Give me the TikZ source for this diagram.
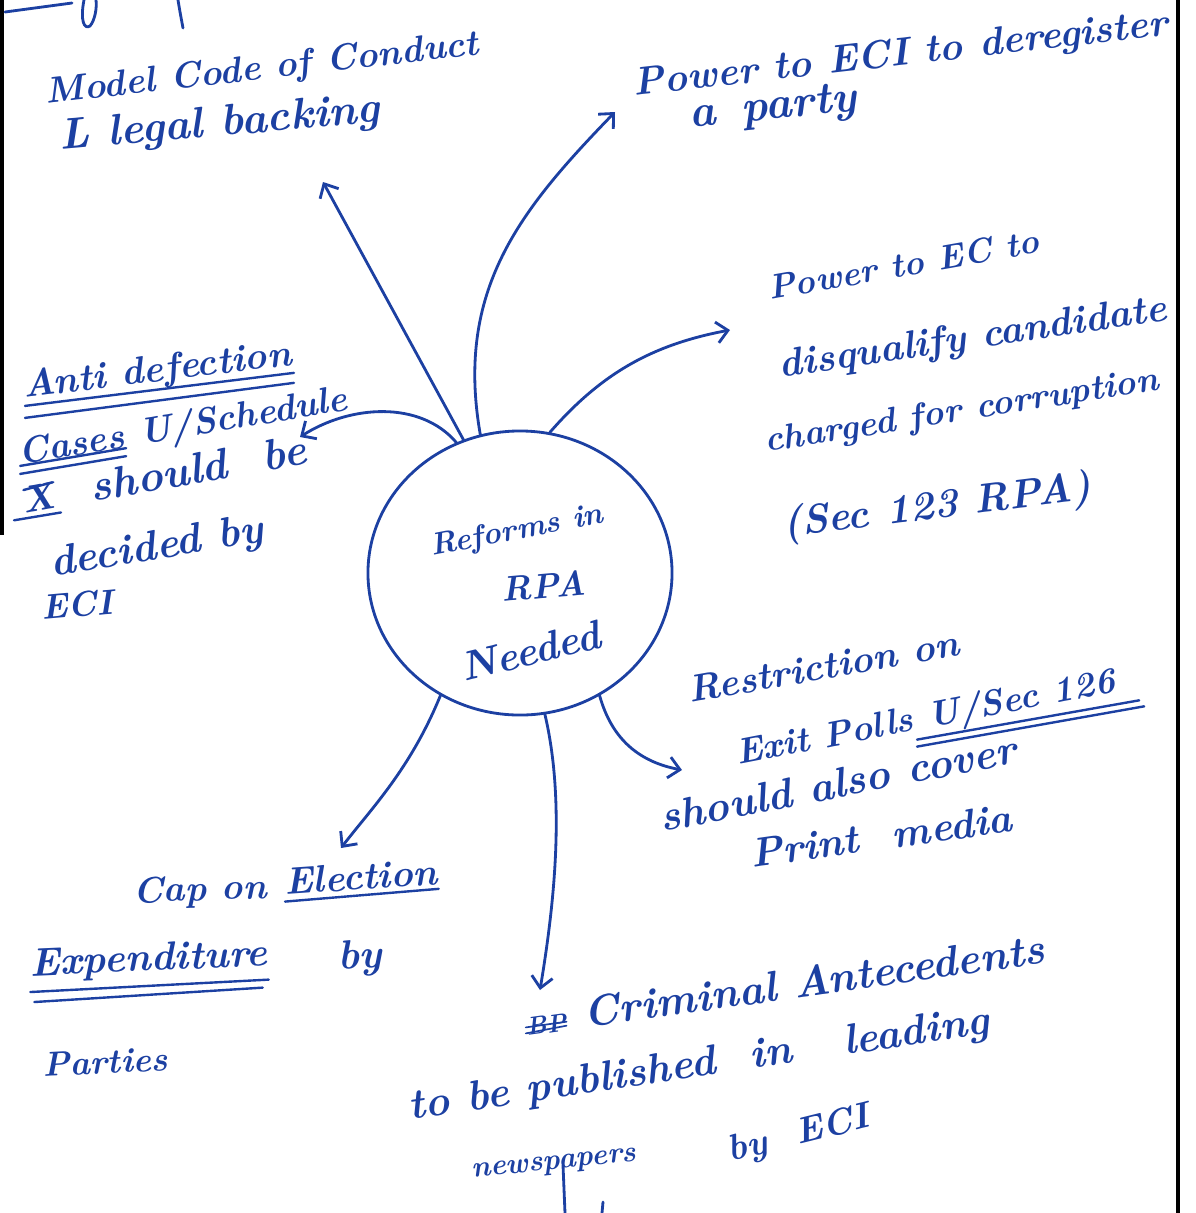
\documentclass[tikz,border=0pt]{standalone}
\usetikzlibrary{arrows.meta,shapes.geometric,calc}
\definecolor{ink}{RGB}{28,64,162}
\begin{document}
\begin{tikzpicture}[x=0.025cm,y=-0.025cm,
  pen/.style={draw=ink,line width=2pt,line cap=round,line join=round},
  link/.style={pen,-{Straight Barb[length=8pt,width=15pt,line width=2pt]}},
  hand/.style={text=ink,inner sep=0pt,anchor=base west,font=\fontsize{#1}{#1}\selectfont\bfseries\itshape},
  hand/.default=27,
  rule/.style={pen,line width=1.7pt},
]
\path[fill=white] (0,0) rectangle (1196,1213);
\useasboundingbox (0,0) rectangle (1196,1213);

% margins of the sheet
\draw[black,line width=3pt] (1178,0) -- (1178,1213);
\draw[black,line width=4pt] (1,0) -- (1,535);

% heading strokes cut by the top edge
\draw[pen] (5,12) -- (72,3);
\draw[pen] (84,0) .. controls (80,20) and (84,30) .. (90,26) .. controls (95,20) and (97,8) .. (96,0);
\draw[pen] (178,0) .. controls (180,12) .. (183,28);

% central idea
\node[ellipse,draw=ink,line width=2pt,minimum width=7.6cm,minimum height=7.1cm,inner sep=0pt] (hub) at (520,573) {};
\node[hand=22,rotate=11] (hub1) at (432,556) {Reforms in};
\node[hand=25,rotate=5] (hub2) at (502,602) {RPA};
\node[hand=29,rotate=14] (hub3) at (464,682) {Needed};

% model code of conduct
\node[hand=26,rotate=6.5] (mcc1) at (46,104) {Model Code of Conduct};
\node[hand=31,rotate=5] (mcc2) at (60,150) {L legal backing};

% deregistration
\node[hand=28,rotate=6.5] (dreg1) at (634,96) {Power to ECI to deregister};
\node[hand=32,rotate=6] (dreg2) at (690,128) {a \,party};

% disqualification
\node[hand=24.5,rotate=10] (disq1) at (770,300) {Power to EC to};
\node[hand=28,rotate=8.5] (disq2) at (780,378) {disqualify candidate};
\node[hand=25,rotate=9] (disq3) at (766,452) {charged for corruption};
\node[hand=29,rotate=7] (disq4) at (784,537) {(Sec 123 RPA)};

% anti defection
\node[hand=27,rotate=7] (anti1) at (24,398) {Anti defection};
\node[hand=26,rotate=9.5] (anti2a) at (20,465) {Cases};
\node[hand=26,rotate=9.5] (anti2b) at (anti2a.base east) {\ U/Schedule};
\node[hand=27,rotate=10] (anti3a) at (24,514) {X};
\node[hand=31,rotate=10] (anti3b) at (anti3a.base east) {\ \ should \ be};
\node[hand=30,rotate=9.5] (anti4) at (52,577) {decided by};
\node[hand=25,rotate=5] (anti5) at (42,620) {ECI};
\draw[rule] (anti1.south west) -- (anti1.south east);
\draw[rule] ($(anti1.south west)+(0,12)$) -- ($(anti1.south east)+(0,10)$);
\draw[rule] (anti2a.south west) -- (anti2a.south east);
\draw[rule] ($(anti2a.south west)+(0,8)$) -- ($(anti2a.south east)+(0,8)$);
\draw[rule] ($(anti3a.south west)+(-10,6)$) -- ($(anti3a.south east)+(4,4)$);
\draw[rule] ($(anti3a.north west)+(4,2)$) -- ($(anti3a.north east)+(0,0)$);

% exit polls
\node[hand=27,rotate=10] (exit1) at (690,703) {Restriction on};
\node[hand=25.5,rotate=11] (exit2a) at (738,765) {Exit Polls};
\node[hand=25.5,rotate=11] (exit2b) at (exit2a.base east) {\ U/Sec 126};
\node[hand=30,rotate=11] (exit3) at (662,832) {should also cover};
\node[hand=29,rotate=8] (exit4) at (752,868) {Print \ media};
\draw[rule] (exit2b.south west) -- ($(exit2b.south east)+(20,0)$);
\draw[rule] ($(exit2b.south west)+(0,7)$) -- ($(exit2b.south east)+(25,6)$);

% cap on expenditure
\node[hand=26,rotate=2] (cap1a) at (133,903) {Cap on};
\node[hand=27,rotate=4] (cap1b) at (285,895) {Election};
\node[hand=28.4,rotate=2.5] (cap2a) at (30,976) {Expenditure};
\node[hand=29,rotate=3] (cap2b) at (338,970) {by};
\node[hand=24.5,rotate=3] (cap3) at (43,1077) {Parties};
\draw[rule] ($(cap1b.south west)+(0,6)$) -- ($(cap1b.south east)+(0,4)$);
\draw[rule] ($(cap2a.south west)+(0,8)$) -- ($(cap2a.south east)+(0,6)$);
\draw[rule] ($(cap2a.south west)+(4,18)$) -- ($(cap2a.south east)+(-6,14)$);

% criminal antecedents
\node[hand=18,rotate=8] (crim0) at (527,1036) {BP};
\node[hand=30.5,rotate=8] (crim1) at (crim0.base east) {\ Criminal Antecedents};
\node[hand=30,rotate=8.5] (crim2) at (410,1120) {to be published \ in \ \ leading};
\node[hand=21,rotate=6] (crim3) at (472,1178) {newspapers};
\node[hand=26,rotate=14] (crim4) at (730,1162) {by \ ECI};
\draw[rule,line width=1.2pt] (crim0.west) -- (crim0.east);
\draw[rule,line width=1.2pt] ($(crim0.west)+(0,6)$) -- ($(crim0.east)+(0,4)$);

% branch leaving the bottom edge
\coordinate (offpage) at (565,1213);
\draw[pen] (563,1165) -- (offpage);
\draw[pen] (603,1202) -- (602,1213);

% arrow tips
\coordinate (tipMcc) at (323,182);
\coordinate (tipDreg) at (615,112);
\coordinate (tipDisq) at (730,330);
\coordinate (tipAnti) at (300,437);
\coordinate (tipCap) at (341,848);
\coordinate (tipCrim) at (540,990);
\coordinate (tipExit) at (682,770);

% branches
\draw[link] (hub.113) -- (tipMcc);
\draw[link] (hub.106) .. controls (455,290) and (520,210) .. (tipDreg);
\draw[link] (hub.78) .. controls (600,375) and (650,345) .. (tipDisq);
\draw[link] (hub.116) .. controls (420,400) and (350,405) .. (tipAnti);
\draw[link] (hub.237) .. controls (410,770) and (370,810) .. (tipCap);
\draw[link] (hub.280) .. controls (565,800) and (555,900) .. (tipCrim);
\draw[link] (hub.303) .. controls (612,740) and (640,762) .. (tipExit);
\end{tikzpicture}
\end{document}
